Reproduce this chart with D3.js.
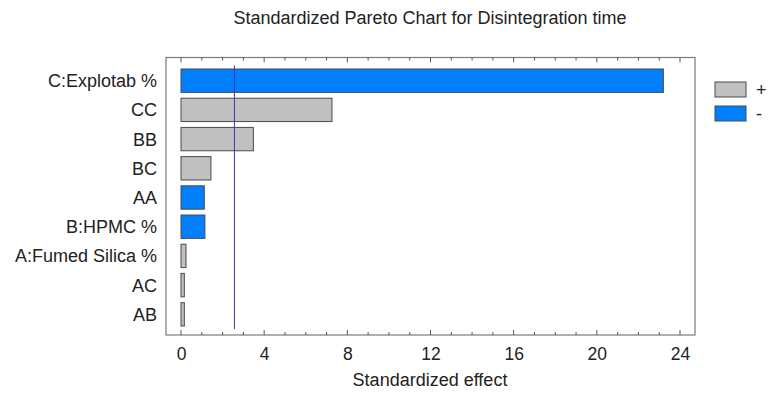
<!DOCTYPE html>
<html><head><meta charset="utf-8">
<script src="https://cdn.jsdelivr.net/npm/d3@7"></script>
<style>
html,body{margin:0;padding:0;background:#fff;}
svg{display:block;font-family:"Liberation Sans",Arial,sans-serif;}
</style></head>
<body>
<svg id="chart" width="768" height="394"></svg>
<script>
const title = "Standardized Pareto Chart for Disintegration time";
const xLabel = "Standardized effect";
const categories = ["C:Explotab %","CC","BB","BC","AA","B:HPMC %","A:Fumed Silica %","AC","AB"];
const effects = [23.2, 7.26, 3.48, 1.44, 1.12, 1.15, 0.24, 0.16, 0.16];
const signs = ["-","+","+","+","-","-","+","+","+"];
const xTicks = [0,4,8,12,16,20,24];
const legendItems = ["+","-"];
const criticalValue = 2.57;

const colors = {"+":"#c0c0c0","-":"#0080ff"};
const svg = d3.select("#chart");
const L = 166, R = 695, T = 57.5, B = 335;

const x = d3.scaleLinear().domain([0,24]).range([181,680]);
const y = d3.scaleBand().domain(categories).range([69,326]).paddingInner(0.2).paddingOuter(0);

// title
svg.append("text").attr("x",430).attr("y",24).attr("text-anchor","middle")
  .attr("font-size",18).attr("fill","#222").text(title);

// frame
svg.append("rect").attr("x",L).attr("y",T).attr("width",R-L).attr("height",B-T)
  .attr("fill","none").attr("stroke","#7a7a7a").attr("stroke-width",1.2);

// bars
svg.append("g").selectAll("rect").data(categories).join("rect")
  .attr("x",x(0)).attr("y",d=>y(d))
  .attr("width",(d,i)=>x(effects[i])-x(0))
  .attr("height",y.bandwidth())
  .attr("fill",(d,i)=>colors[signs[i]])
  .attr("stroke","#4a4a4a").attr("stroke-width",1);

// reference line
svg.append("line").attr("x1",x(criticalValue)).attr("x2",x(criticalValue))
  .attr("y1",T+8).attr("y2",B-6).attr("stroke","#3a3aaa").attr("stroke-width",1);

// axes: bottom ticks inward (up), top ticks inward (down)
const minor = d3.range(0,25,1);
const bottomAx = d3.axisBottom(x).tickValues(xTicks).tickSize(0).tickPadding(13).tickFormat(d3.format("d"));
const gb = svg.append("g").attr("transform",`translate(0,${B})`).call(bottomAx);
gb.select(".domain").remove();
gb.selectAll("text").attr("font-size",17.5).attr("fill","#222").attr("font-family","Liberation Sans, Arial, sans-serif");

const tickG = svg.append("g").attr("stroke","#555").attr("stroke-width",1);
minor.forEach(v=>{
  const len = (v%4===0)?5:3;
  tickG.append("line").attr("x1",x(v)).attr("x2",x(v)).attr("y1",B).attr("y2",B-len);
  tickG.append("line").attr("x1",x(v)).attr("x2",x(v)).attr("y1",T).attr("y2",T+len);
});

// y labels
svg.append("g").selectAll("text").data(categories).join("text")
  .attr("x",157).attr("y",d=>y(d)+y.bandwidth()/2).attr("dy","0.36em")
  .attr("text-anchor","end").attr("font-size",18).attr("fill","#222").text(d=>d);

// x label
svg.append("text").attr("x",430).attr("y",386).attr("text-anchor","middle")
  .attr("font-size",18).attr("fill","#222").text(xLabel);

// legend
const lg = svg.append("g");
legendItems.forEach((k,i)=>{
  lg.append("rect").attr("x",715).attr("y",82+i*24).attr("width",31).attr("height",15)
    .attr("fill",colors[k]).attr("stroke","#4a4a4a").attr("stroke-width",1);
  lg.append("text").attr("x",756).attr("y",89.5+i*24).attr("dy","0.36em")
    .attr("font-size",18).attr("fill","#222").text(k);
});
</script>
</body></html>
